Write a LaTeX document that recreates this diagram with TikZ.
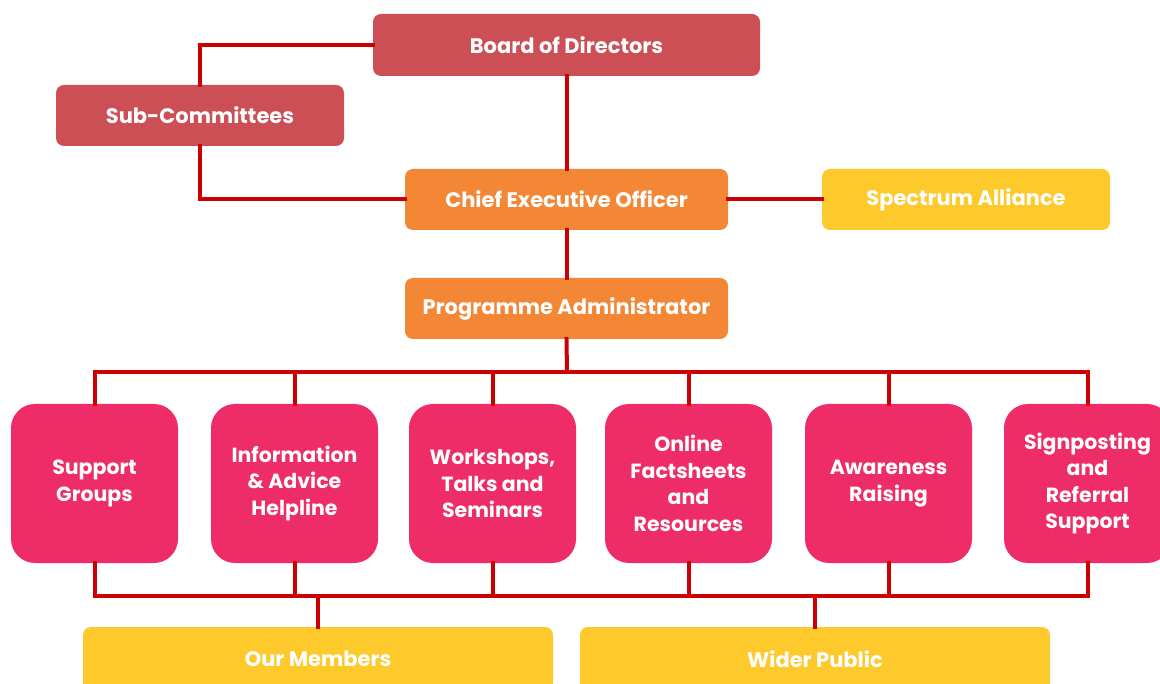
\documentclass[tikz,border=0pt]{standalone}
\usepackage{fontspec}
\setmainfont{Poppins}
\definecolor{boardred}{HTML}{CB4F54}
\definecolor{ceoorange}{HTML}{F38735}
\definecolor{allyellow}{HTML}{FEC92A}
\definecolor{servpink}{HTML}{EE2C68}
\definecolor{linkred}{HTML}{CC0000}
\begin{document}
\begin{tikzpicture}[x=1pt,y=-1pt,
  box/.style={draw=none,text=white,font=\bfseries\fontsize{21}{24}\selectfont,
    rounded corners=8pt,inner sep=0pt,align=center},
  boardbox/.style={box,fill=boardred},
  orangebox/.style={box,fill=ceoorange},
  yellowbox/.style={box,fill=allyellow},
  servicebox/.style={box,fill=servpink,rounded corners=24pt,
    minimum width=167pt,minimum height=159pt,
    font=\bfseries\fontsize{20.5}{26.5}\selectfont},
  link/.style={draw=linkred,line width=4pt,line cap=rect}]
\useasboundingbox (0,0) rectangle (1160,684);

% management
\node[boardbox,minimum width=387pt,minimum height=62pt] (board) at (566.5,45) {Board of Directors};
\node[boardbox,minimum width=288pt,minimum height=61pt] (sub) at (200,115.5) {Sub-Committees};
\node[orangebox,minimum width=323pt,minimum height=61pt] (ceo) at (566.5,199.5) {Chief Executive Officer};
\node[yellowbox,minimum width=288pt,minimum height=61pt] (ally) at (966,199.5) {Spectrum Alliance};
\node[orangebox,minimum width=323pt,minimum height=61pt] (pa) at (566.5,308.5) {Programme Administrator};

% services
\node[servicebox] (g1) at (94.5,483.5) {Support\\Groups};
\node[servicebox] (g2) at (294.5,483.5) {Information\\\& Advice\\Helpline};
\node[servicebox] (g3) at (492.5,483.5) {Workshops,\\Talks and\\Seminars};
\node[servicebox] (g4) at (688.5,483.5) {Online\\Factsheets\\and\\Resources};
\node[servicebox] (g5) at (888.5,483.5) {Awareness\\Raising};
\node[servicebox] (g6) at (1087.5,483.5) {Signposting\\and\\Referral\\Support};

% audiences
\node[yellowbox,minimum width=470pt,minimum height=64pt] (mem) at (318,659) {Our Members};
\node[yellowbox,minimum width=470pt,minimum height=64pt] (pub) at (815,659) {Wider Public};

% junction points
\coordinate (bt) at (567,372);
\coordinate (bm) at (318,596);
\coordinate (bp) at (815,596);

% connectors
\draw[link] (board.west) -| (sub.north);
\draw[link] (sub.south) |- (ceo.west);
\draw[link] (board.south) -- (ceo.north);
\draw[link] (ceo.east) -- (ally.west);
\draw[link] (ceo.south) -- (pa.north);
\draw[link] (pa.south) -- (bt);
\foreach \g in {g1,g2,g3,g4,g5,g6} \draw[link] (\g.north) |- (bt);
\foreach \g in {g1,g2,g3} \draw[link] (\g.south) |- (bm);
\foreach \g in {g4,g5,g6} \draw[link] (\g.south) |- (bp);
\draw[link] (bm) -- (bp);
\draw[link] (bm) -- (mem.north);
\draw[link] (bp) -- (pub.north);
\end{tikzpicture}
\end{document}
